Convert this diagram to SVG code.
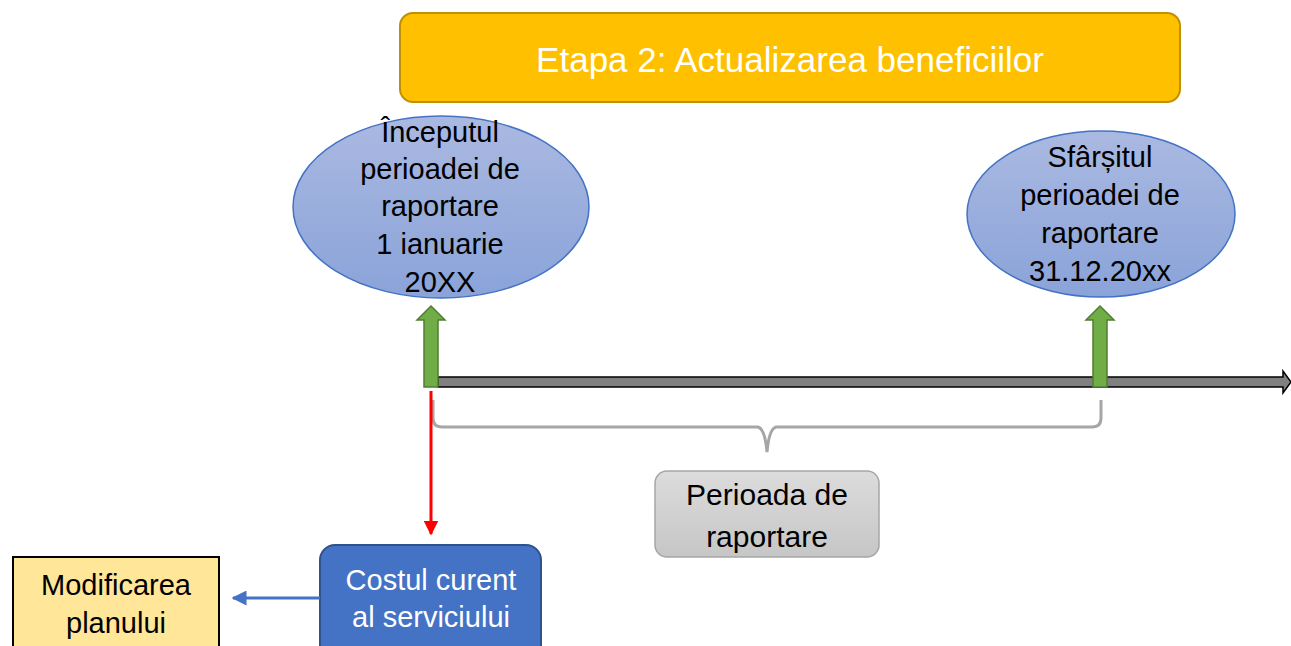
<svg xmlns="http://www.w3.org/2000/svg" width="1291" height="646" viewBox="0 0 1291 646">
<defs>
<linearGradient id="gBlue" x1="0" y1="0" x2="0" y2="1">
<stop offset="0" stop-color="#AAB9E1"/>
<stop offset="1" stop-color="#8AA3D9"/>
</linearGradient>
<linearGradient id="gGray" x1="0" y1="0" x2="0" y2="1">
<stop offset="0" stop-color="#DCDCDC"/>
<stop offset="1" stop-color="#C6C6C6"/>
</linearGradient>
<marker id="mRed" viewBox="0 0 10 10" refX="9" refY="5" markerWidth="5" markerHeight="5" markerUnits="strokeWidth" orient="auto">
<path d="M0,0 L10,5 L0,10 Z" fill="#FF0000"/>
</marker>
<marker id="mBlue" viewBox="0 0 10 10" refX="9" refY="5" markerWidth="5" markerHeight="5" markerUnits="strokeWidth" orient="auto">
<path d="M0,0 L10,5 L0,10 Z" fill="#4472C4"/>
</marker>
</defs>
<style>
text{font-family:"Liberation Sans",Arial,sans-serif;text-anchor:middle}
.blk{fill:#000000;font-size:29px}
.wht{fill:#FFFFFF;font-size:29px}
.ell{fill:url(#gBlue);stroke:#4472C4;stroke-width:1.5}
.garrow{fill:#70AD47;stroke:#507E32;stroke-width:1.5}
</style>
<rect width="1291" height="646" fill="#FFFFFF"/>

<g id="banner">
<rect x="400" y="13" width="780" height="89" rx="13" fill="#FFC000" stroke="#BF9000" stroke-width="2"/>
<text x="790" y="72" style="font-size:35px" fill="#FFFFFF">Etapa 2: Actualizarea beneficiilor</text>
</g>

<g id="timeline">
<path d="M438,377 L1283,377 L1283,371 L1291,382 L1283,393 L1283,387 L438,387 Z" fill="#808080" stroke="#000000" stroke-width="1.5"/>
</g>

<g id="start-node">
<ellipse class="ell" cx="441" cy="207" rx="148" ry="91"/>
<text class="blk" x="440" y="142">Începutul</text>
<text class="blk" x="440" y="179">perioadei de</text>
<text class="blk" x="440" y="216">raportare</text>
<text class="blk" x="440" y="254">1 ianuarie</text>
<text class="blk" x="440" y="292">20XX</text>
</g>

<g id="end-node">
<ellipse class="ell" cx="1101" cy="214" rx="134" ry="83"/>
<text class="blk" x="1100" y="167">Sfârșitul</text>
<text class="blk" x="1100" y="205">perioadei de</text>
<text class="blk" x="1100" y="243">raportare</text>
<text class="blk" x="1100" y="281">31.12.20xx</text>
</g>

<g id="start-marker">
<path class="garrow" d="M431,306 L445,320 L438,320 L438,387 L424,387 L424,320 L417,320 Z"/>
</g>
<g id="end-marker">
<path class="garrow" d="M1100,306 L1114,320 L1107,320 L1107,387 L1093,387 L1093,320 L1086,320 Z"/>
</g>

<g id="period-label">
<rect x="655" y="471" width="224" height="86" rx="12" fill="url(#gGray)" stroke="#A6A6A6" stroke-width="1.5"/>
<text class="blk" x="767" y="505" style="font-size:30px">Perioada de</text>
<text class="blk" x="767" y="547" style="font-size:30px">raportare</text>
</g>

<g id="service-cost">
<rect x="320" y="545" width="221" height="115" rx="15" fill="#4472C4" stroke="#2F528F" stroke-width="2"/>
<text class="wht" x="431" y="590">Costul curent</text>
<text class="wht" x="431" y="627">al serviciului</text>
</g>

<g id="plan-change">
<rect x="13" y="557" width="206" height="100" fill="#FFE699" stroke="#000000" stroke-width="2"/>
<text class="blk" x="116" y="595">Modificarea</text>
<text class="blk" x="116" y="633">planului</text>
</g>

<g id="connectors">
<path d="M433,400 L433,418 Q433,427 442,427 L758,427 Q765,429 767,452 Q769,429 776,427 L1092,427 Q1101,427 1101,418 L1101,400" fill="none" stroke="#A6A6A6" stroke-width="3"/>
<line x1="431" y1="391" x2="431" y2="534" stroke="#FF0000" stroke-width="3" marker-end="url(#mRed)"/>
<line x1="320" y1="598" x2="233" y2="598" stroke="#4472C4" stroke-width="3" marker-end="url(#mBlue)"/>
</g>
</svg>
